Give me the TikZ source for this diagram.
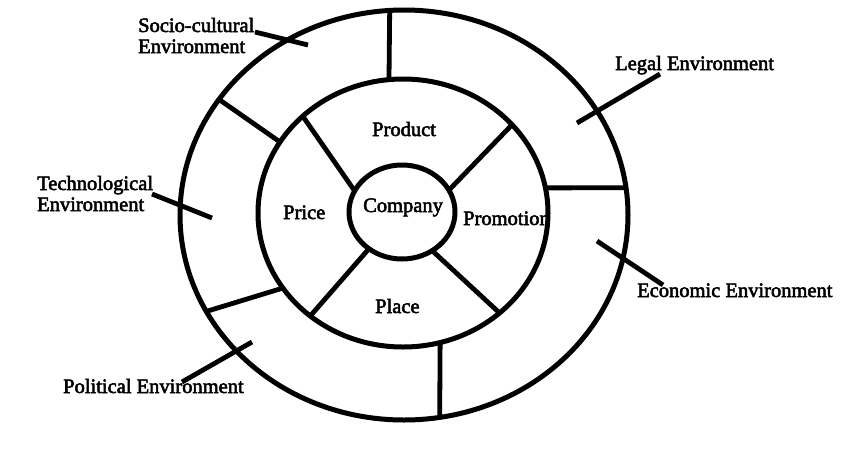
\documentclass[tikz,border=0pt]{standalone}
\usepackage{fontspec}
\setmainfont{Liberation Serif}[FakeBold=2.5]
\usetikzlibrary{shapes.geometric}
\begin{document}
\begin{tikzpicture}[x=1pt,y=-1pt,
  ring/.style={draw,ellipse,line width=5pt,inner sep=0pt,outer sep=0pt},
  spoke/.style={line width=4.8pt},
  leader/.style={line width=4.8pt},
  lbl/.style={font=\fontsize{20.5}{21}\selectfont,inner sep=0pt,anchor=base west,align=left}]
\useasboundingbox[fill=white] (0,0) rectangle (860,451);
% rings
\node[ring,minimum width=448pt,minimum height=410pt] (outer) at (404,215) {};
\node[ring,minimum width=290pt,minimum height=268pt] (mid) at (403,213) {};
\node[ring,minimum width=106pt,minimum height=94pt] (inner) at (402,212) {};
% inner spokes
\draw[spoke] (inner.156) -- (mid.136);
\draw[spoke] (inner.25) -- (mid.39.4);
\draw[spoke] (inner.228) -- (mid.228);
\draw[spoke] (inner.308) -- (mid.314);
% outer spokes
\draw[spoke] (mid.96.4) -- (outer.94.5);
\draw[spoke] (mid.150) -- (outer.148);
\draw[spoke] (mid.10.6) -- (outer.7.4);
\draw[spoke] (mid.212.7) -- (outer.206.4);
\draw[spoke] (mid.286.3) -- (outer.280.5);
% inner labels
\node[lbl] (product) at (372,136) {Product};
\node[lbl] (company) at (363,212) {Company};
\node[lbl] (price) at (283,219) {Price};
\node[lbl] (promotion) at (463,225) {Promotion};
\node[lbl] (place) at (375,313) {Place};
% outer labels
\node[lbl] (socio) at (138,53) {Socio-cultural\\Environment};
\node[lbl] (legal) at (615,70) {Legal Environment};
\node[lbl] (tech) at (37,211) {Technological\\Environment};
\node[lbl] (political) at (63,393) {Political Environment};
\node[lbl] (economic) at (637,297) {Economic Environment};
% leader lines
\coordinate (s1) at (255,32); \coordinate (s2) at (308,45);
\coordinate (l1) at (577,123); \coordinate (l2) at (660,74);
\coordinate (t1) at (152,194); \coordinate (t2) at (212,218);
\coordinate (p1) at (182,382); \coordinate (p2) at (252,342);
\coordinate (e1) at (597,241); \coordinate (e2) at (663,285);
\draw[leader] (s1) -- (s2);
\draw[leader] (l2) -- (l1);
\draw[leader] (t1) -- (t2);
\draw[leader] (p1) -- (p2);
\draw[leader] (e1) -- (e2);
\end{tikzpicture}
\end{document}
